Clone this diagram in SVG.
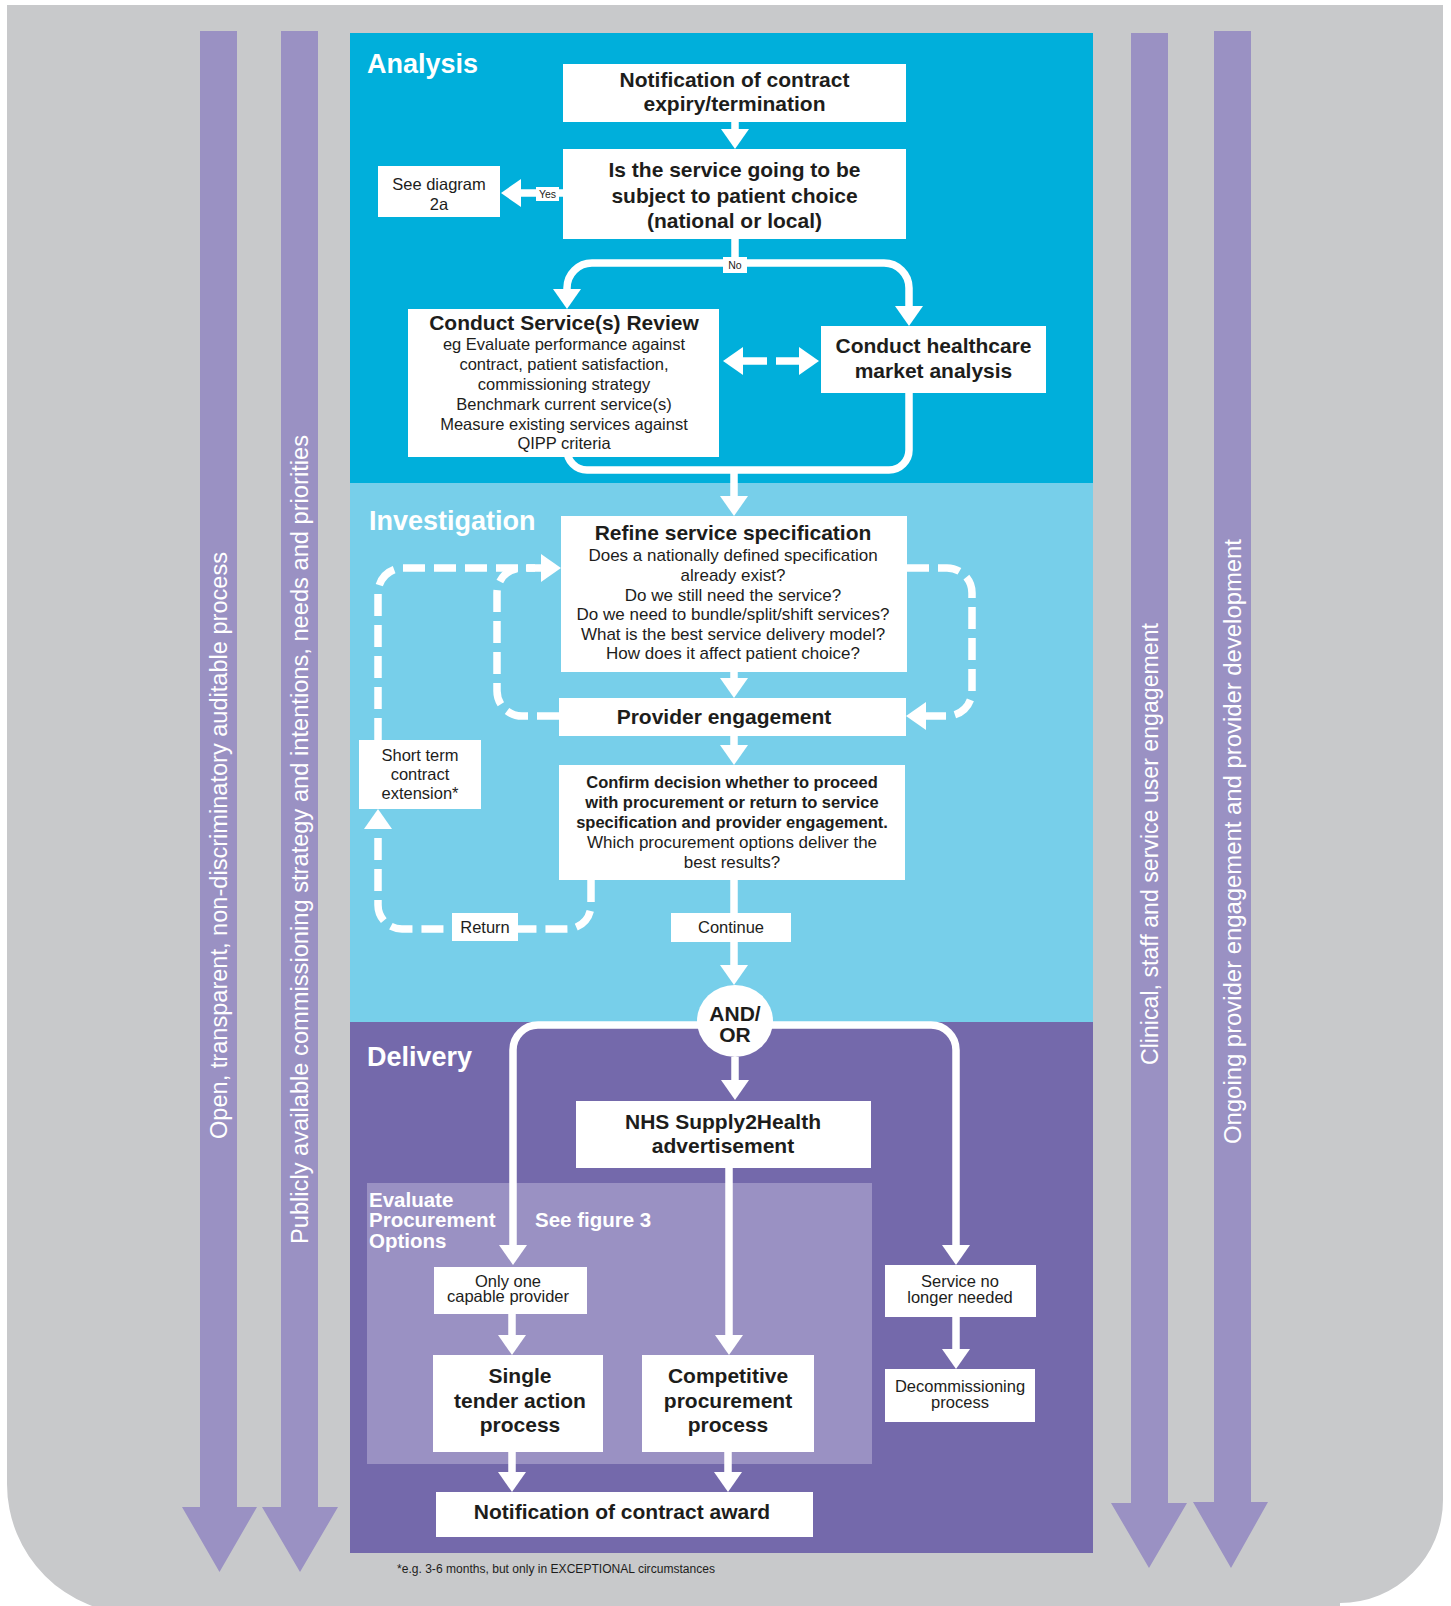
<svg xmlns="http://www.w3.org/2000/svg" width="1451" height="1606" viewBox="0 0 1451 1606">
<defs>
<style>
.t{font-family:"Liberation Sans",Arial,sans-serif;fill:#1d1d1b;text-anchor:middle}
.b{font-weight:bold;font-size:21px}
.r{font-size:16.5px}
.r17{font-size:17px}
.rb{font-size:16.5px;font-weight:bold}
.s{font-size:10.5px}
.h{font-family:"Liberation Sans",Arial,sans-serif;font-weight:bold;font-size:27px;fill:#fff}
.e{font-family:"Liberation Sans",Arial,sans-serif;font-weight:bold;font-size:20.5px;fill:#fff}
.v{font-family:"Liberation Sans",Arial,sans-serif;font-size:23px;fill:#fff;text-anchor:middle}
.box{fill:#fff}
.ln{fill:none;stroke:#fff;stroke-width:7.5}
.ds{stroke-dasharray:22 9}
.bar{fill:#9a91c3}
</style>
<marker id="ah" viewBox="0 0 20 28" refX="0" refY="14" markerWidth="20" markerHeight="28" markerUnits="userSpaceOnUse" orient="auto">
<path d="M0,0 L20,14 L0,28 Z" fill="#fff"/>
</marker>
</defs>
<rect x="0" y="0" width="1451" height="1606" fill="#fff"/>
<path d="M7,5 H1443 V1500 A103,103 0 0 1 1340,1603 L1340,1620 L137,1620 L137,1614 A130,130 0 0 1 7,1484 Z" fill="#c8c9cb"/>

<g id="side-arrows">
<path class="bar" d="M200,31 H237 V1507 H257 L219.5,1572 L182,1507 H200 Z"/>
<path class="bar" d="M281,31 H318 V1507 H338 L300,1572 L262,1507 H281 Z"/>
<path class="bar" d="M1131,33 H1168 V1503 H1187 L1149,1568 L1111,1503 H1131 Z"/>
<path class="bar" d="M1214,31 H1251 V1502 H1268 L1231,1568 L1193,1502 H1214 Z"/>
<text class="v" transform="translate(226.5,845.5) rotate(-90)" textLength="587" lengthAdjust="spacingAndGlyphs">Open, transparent, non-discriminatory auditable process</text>
<text class="v" transform="translate(307.5,839.5) rotate(-90)" textLength="809" lengthAdjust="spacingAndGlyphs">Publicly available commissioning strategy and intentions, needs and priorities</text>
<text class="v" transform="translate(1157.5,844) rotate(-90)" textLength="442" lengthAdjust="spacingAndGlyphs">Clinical, staff and service user engagement</text>
<text class="v" transform="translate(1240.5,841.5) rotate(-90)" textLength="605" lengthAdjust="spacingAndGlyphs">Ongoing provider engagement and provider development</text>
</g>

<g id="sections">
<rect x="350" y="33" width="743" height="450" fill="#00afdb"/>
<rect x="350" y="483" width="743" height="539" fill="#77cfea"/>
<rect x="350" y="1022" width="743" height="531" fill="#7469ab"/>
<rect x="367" y="1183" width="505" height="281" fill="#9a91c3"/>
<text class="h" x="367" y="73">Analysis</text>
<text class="h" x="369" y="530">Investigation</text>
<text class="h" x="367" y="1066">Delivery</text>
<text class="e" x="369" y="1207">Evaluate</text>
<text class="e" x="369" y="1227">Procurement</text>
<text class="e" x="369" y="1248">Options</text>
<text class="e" x="535" y="1227">See figure 3</text>
</g>

<g id="connectors">
<path class="ln" d="M735,122 V129" marker-end="url(#ah)"/>
<path class="ln" d="M563,193 H521" marker-end="url(#ah)"/>
<path class="ln" d="M735,239 V263"/>
<path class="ln" d="M735,263 H592 A25,25 0 0 0 567,288 V289" marker-end="url(#ah)"/>
<path class="ln" d="M735,263 H884 A25,25 0 0 1 909,288 V306" marker-end="url(#ah)"/>
<path class="ln" d="M767,361 H743" marker-end="url(#ah)"/>
<path class="ln" d="M776,361 H799" marker-end="url(#ah)"/>
<path class="ln" d="M567,445 V450 A20,20 0 0 0 587,470 H889 A20,20 0 0 0 909,450 V393"/>
<path class="ln" d="M734,470 V496" marker-end="url(#ah)"/>
<path class="ln" d="M734,672 V678" marker-end="url(#ah)"/>
<path class="ln" d="M734,736 V745" marker-end="url(#ah)"/>
<path class="ln ds" d="M907,568 H947 A25,25 0 0 1 972,593 V691 A25,25 0 0 1 947,716 H926" marker-end="url(#ah)"/>
<path class="ln ds" d="M378,740 V593 A25,25 0 0 1 403,568 H541" marker-end="url(#ah)"/>
<path class="ln ds" d="M559,716 H522 A25,25 0 0 1 497,691 V593 A25,25 0 0 1 522,568 H535"/>
<path class="ln ds" d="M591,880 V905 A24,24 0 0 1 567,929 H402 A24,24 0 0 1 378,905 V829" marker-end="url(#ah)"/>
<path class="ln" d="M734,880 V965" marker-end="url(#ah)"/>
<path class="ln" d="M735,1057 V1080" marker-end="url(#ah)"/>
<path class="ln" d="M735,1025 H538 A25,25 0 0 0 513,1050 V1245" marker-end="url(#ah)"/>
<path class="ln" d="M735,1025 H931 A25,25 0 0 1 956,1050 V1245" marker-end="url(#ah)"/>
<path class="ln" d="M729,1168 V1335" marker-end="url(#ah)"/>
<path class="ln" d="M512,1314 V1335" marker-end="url(#ah)"/>
<path class="ln" d="M512,1452 V1472" marker-end="url(#ah)"/>
<path class="ln" d="M728,1452 V1472" marker-end="url(#ah)"/>
<path class="ln" d="M956,1317 V1349" marker-end="url(#ah)"/>
</g>

<g id="n-notification">
<rect class="box" x="563" y="64" width="343" height="58"/>
<text class="t b" x="734.5" y="87">Notification of contract</text>
<text class="t b" x="734.5" y="111">expiry/termination</text>
</g>
<g id="n-choice">
<rect class="box" x="563" y="149" width="343" height="90"/>
<text class="t b" x="734.5" y="177">Is the service going to be</text>
<text class="t b" x="734.5" y="203">subject to patient choice</text>
<text class="t b" x="734.5" y="228">(national or local)</text>
</g>
<g id="n-diagram2a">
<rect class="box" x="378" y="166" width="122" height="51"/>
<text class="t r" x="439" y="190">See diagram</text>
<text class="t r" x="439" y="210">2a</text>
</g>
<g id="n-review">
<rect class="box" x="408" y="309" width="311" height="148"/>
<text class="t b" x="564" y="330">Conduct Service(s) Review</text>
<text class="t r" x="564" y="350">eg Evaluate performance against</text>
<text class="t r" x="564" y="370">contract, patient satisfaction,</text>
<text class="t r" x="564" y="390">commissioning strategy</text>
<text class="t r" x="564" y="410">Benchmark current service(s)</text>
<text class="t r" x="564" y="430">Measure existing services against</text>
<text class="t r" x="564" y="449">QIPP criteria</text>
</g>
<g id="n-market">
<rect class="box" x="821" y="326" width="225" height="67"/>
<text class="t b" x="933.5" y="353">Conduct healthcare</text>
<text class="t b" x="933.5" y="378">market analysis</text>
</g>
<g id="n-refine">
<rect class="box" x="561" y="516" width="346" height="156"/>
<text class="t b" x="733" y="540">Refine service specification</text>
<text class="t r17" x="733" y="561">Does a nationally defined specification</text>
<text class="t r17" x="733" y="581">already exist?</text>
<text class="t r17" x="733" y="601">Do we still need the service?</text>
<text class="t r17" x="733" y="620">Do we need to bundle/split/shift services?</text>
<text class="t r17" x="733" y="640">What is the best service delivery model?</text>
<text class="t r17" x="733" y="659">How does it affect patient choice?</text>
</g>
<g id="n-provider">
<rect class="box" x="559" y="698" width="347" height="38"/>
<text class="t b" x="724" y="724">Provider engagement</text>
</g>
<g id="n-confirm">
<rect class="box" x="559" y="765" width="346" height="115"/>
<text class="t rb" x="732" y="788">Confirm decision whether to proceed</text>
<text class="t rb" x="732" y="808">with procurement or return to service</text>
<text class="t rb" x="732" y="828">specification and provider engagement.</text>
<text class="t r17" x="732" y="848">Which procurement options deliver the</text>
<text class="t r17" x="732" y="868">best results?</text>
</g>
<g id="n-shortterm">
<rect class="box" x="359" y="740" width="122" height="69"/>
<text class="t r" x="420" y="761">Short term</text>
<text class="t r" x="420" y="780">contract</text>
<text class="t r" x="420" y="799">extension*</text>
</g>
<g id="n-andor">
<ellipse class="box" cx="735" cy="1021" rx="38" ry="36"/>
<text class="t b" x="735" y="1021">AND/</text>
<text class="t b" x="735" y="1042">OR</text>
</g>
<g id="n-nhs">
<rect class="box" x="576" y="1101" width="295" height="67"/>
<text class="t b" x="723" y="1129">NHS Supply2Health</text>
<text class="t b" x="723" y="1153">advertisement</text>
</g>
<g id="n-onlyone">
<rect class="box" x="434" y="1267" width="153" height="47"/>
<text class="t r" x="508" y="1287">Only one</text>
<text class="t r" x="508" y="1302">capable provider</text>
</g>
<g id="n-single">
<rect class="box" x="433" y="1355" width="170" height="97"/>
<text class="t b" x="520" y="1383">Single</text>
<text class="t b" x="520" y="1408">tender action</text>
<text class="t b" x="520" y="1432">process</text>
</g>
<g id="n-competitive">
<rect class="box" x="642" y="1355" width="172" height="97"/>
<text class="t b" x="728" y="1383">Competitive</text>
<text class="t b" x="728" y="1408">procurement</text>
<text class="t b" x="728" y="1432">process</text>
</g>
<g id="n-award">
<rect class="box" x="436" y="1492" width="377" height="45"/>
<text class="t b" x="622" y="1519">Notification of contract award</text>
</g>
<g id="n-noneed">
<rect class="box" x="885" y="1265" width="151" height="52"/>
<text class="t r" x="960" y="1287">Service no</text>
<text class="t r" x="960" y="1303">longer needed</text>
</g>
<g id="n-decom">
<rect class="box" x="885" y="1369" width="150" height="53"/>
<text class="t r" x="960" y="1392">Decommissioning</text>
<text class="t r" x="960" y="1408">process</text>
</g>

<g id="labels">
<rect class="box" x="536" y="187" width="23" height="14"/>
<text class="t s" x="547.5" y="198">Yes</text>
<rect class="box" x="723" y="257" width="24" height="16"/>
<text class="t s" x="735" y="269">No</text>
<rect class="box" x="452" y="913" width="66" height="28"/>
<text class="t r" x="485" y="933">Return</text>
<rect class="box" x="671" y="913" width="120" height="29"/>
<text class="t r" x="731" y="933">Continue</text>
</g>
<text x="397" y="1573" font-family="Liberation Sans, Arial, sans-serif" font-size="12" fill="#1d1d1b" textLength="318" lengthAdjust="spacingAndGlyphs">*e.g. 3-6 months, but only in EXCEPTIONAL circumstances</text>
</svg>
